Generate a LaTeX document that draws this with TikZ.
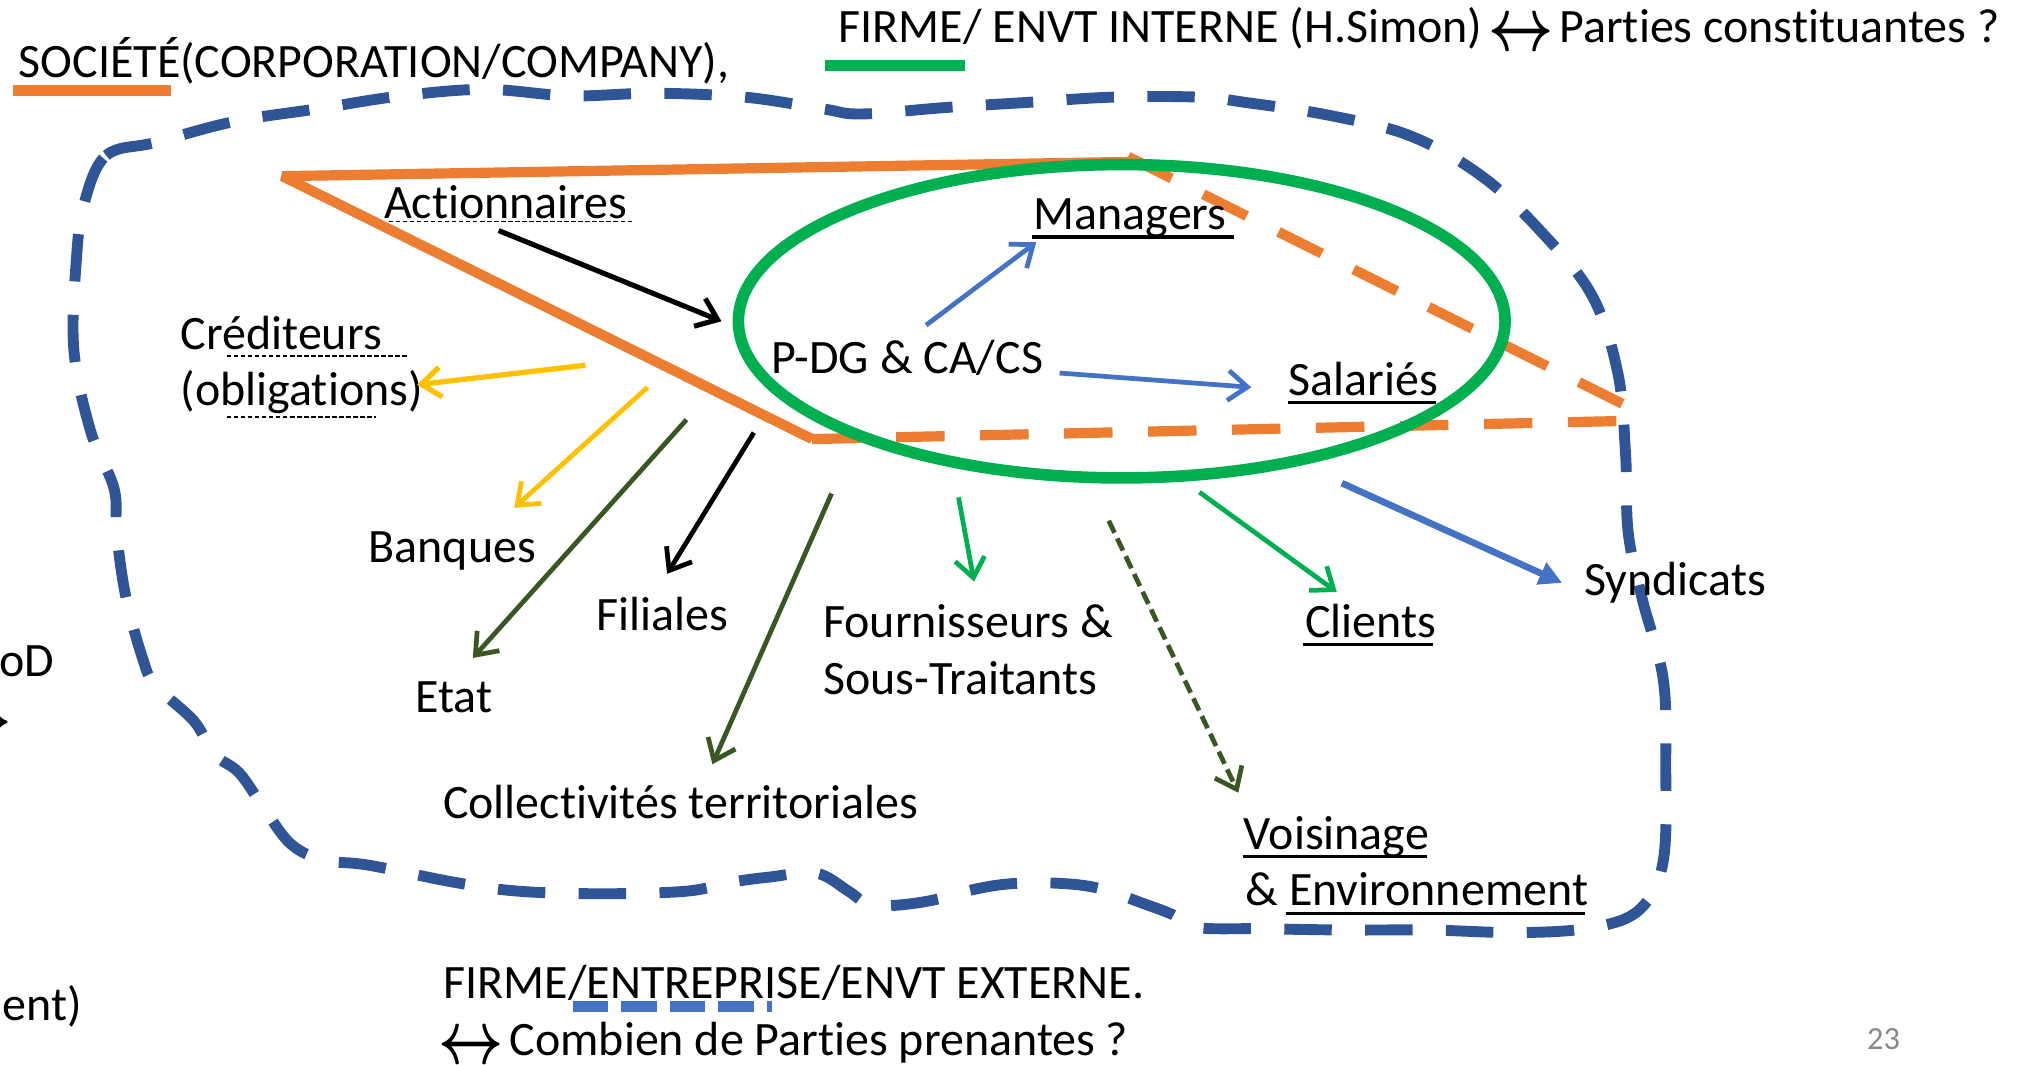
\documentclass[tikz,border=0pt]{standalone}
\usepackage{fontspec}
\setmainfont{Carlito}[Ligatures=NoCommon]
\usetikzlibrary{arrows.meta}
\definecolor{dblue}{HTML}{2F5597}
\definecolor{orng}{HTML}{ED7D31}
\definecolor{grn}{HTML}{00B050}
\definecolor{ylw}{HTML}{FFC000}
\definecolor{lblue}{HTML}{4472C4}
\definecolor{dgrn}{HTML}{385723}
\definecolor{pgray}{HTML}{898989}
\newcommand{\lra}{\makebox[1.15em][c]{\raisebox{-0.17em}{\scalebox{1.12}[1.5]{\boldmath$\leftrightarrow$}}}}
\begin{document}
\begin{tikzpicture}[x=0.012953cm,y=-0.012953cm,
  txt/.style={inner sep=0pt, anchor=base west, font=\fontsize{13.65}{16}\selectfont},
  uline/.style={line width=0.9pt},
  dline/.style={line width=0.55pt, dash pattern=on 1.3pt off 0.7pt},
  outer/.style={draw=dblue, line width=3.1pt, dash pattern=on 13.5pt off 9.5pt},
  soc/.style={draw=orng, line width=2.9pt},
  socd/.style={soc, dash pattern=on 13.8pt off 10.1pt},
  arr/.style={line width=1.35pt, -{Straight Barb[length=5.5pt,width=8.5pt]}},
]
\useasboundingbox (0,0) rectangle (1568,822);
\clip (0,0) rectangle (1568,822);

% outer blue dashed boundary
\draw[outer] plot[smooth cycle, tension=0.6] coordinates {
(65,157) (82,120) (120,110) (180,94) (245,84) (310,74) (375,69) (440,74) (505,72) (575,75) (635,84) (665,88) (730,83) (794,79) (859,75) (926,75) (961,79) (1026,89) (1089,105) (1144,136) (1189,178) (1229,228) (1249,288) (1255,351) (1257,411) (1268,463) (1284,524) (1286,590) (1284,665) (1266,702) (1230,716) (1174,720) (1104,718) (1039,718) (974,717) (924,716) (905,706) (884,698) (849,686) (819,682) (784,682) (755,686) (720,695) (690,699) (670,698) (655,688) (630,674) (595,677) (565,681) (530,688) (465,690) (400,688) (350,681) (285,668) (250,664) (225,652) (205,626) (185,597) (165,582) (150,557) (120,529) (110,508) (97,460) (90,411) (88,377) (70,333) (57,270) (59,200)};

% orange "société" shape
\coordinate (o1) at (218,136);
\coordinate (o2) at (871,125);
\coordinate (o2d) at (871,121);
\coordinate (o3a) at (1257,314);
\coordinate (o3b) at (1252,325);
\coordinate (o4) at (627,339);
\draw[soc, line join=bevel] (o2) -- (o1) -- (o4);
\draw[socd] (o2d) -- (o3a);
\draw[socd] (o4) -- (o3b);

% green ellipse
\draw[grn, line width=3.3pt] (866,248) ellipse [x radius=3.834cm, y radius=1.567cm];

% legend bars
\coordinate (sb1) at (10,70); \coordinate (sb2) at (132,70);
\draw[orng, line width=3.1pt] (sb1) -- (sb2);
\coordinate (gb1) at (637,50.5); \coordinate (gb2) at (745,50.5);
\draw[grn, line width=3.3pt] (gb1) -- (gb2);
\coordinate (bb1) at (442,777); \coordinate (bb2) at (596,777);
\draw[lblue, line width=3pt, dash pattern=on 10.1pt off 3.7pt] (bb1) -- (bb2);

% texts
\node[txt] (soct) at (14,60) {SOCIÉTÉ(CORPORATION/COMPANY),};
\node[txt] (fint) at (647,33) {FIRME/ ENVT INTERNE (H.Simon) \lra{} Parties constituantes ?};
\node[txt] (act) at (296,169) {Actionnaires};
\node[txt] (man) at (797.5,177) {Managers};
\node[txt] (cred) at (139,270) {Créditeurs};
\node[txt] (obl) at (139,313) {(obligations)};
\node[txt] (pdg) at (595,288) {P-DG \& CA/CS};
\node[txt] (sal) at (994.5,305) {Salariés};
\node[txt] (banq) at (284,434) {Banques};
\node[txt] (fil) at (460,487) {Filiales};
\node[txt] (etat) at (320,550) {Etat};
\node[txt] (four) at (635,492) {Fournisseurs \&};
\node[txt] (sous) at (635,536) {Sous-Traitants};
\node[txt] (coll) at (341.5,632) {Collectivités territoriales};
\node[txt] (cli) at (1007,492) {Clients};
\node[txt] (synd) at (1222.5,460) {Syndicats};
\node[txt] (vois) at (959.5,656) {Voisinage};
\node[txt] (envi) at (961,699) {\& Environnement};
\node[txt] (fext) at (342,771) {FIRME/ENTREPRISE/ENVT EXTERNE.};
\node[txt] (comb) at (342,815) {\lra{} Combien de Parties prenantes ?};
\node[inner sep=0pt, anchor=base west, font=\fontsize{9.2}{11}\selectfont, text=pgray] (pg) at (1441,810) {23};
% cut-off fragments at the left edge
\node[txt] (frg1) at (-1,522) {oD};
\node[txt, anchor=base east] (frg2) at (6,566) {\lra};
\node[txt, anchor=base east] (frg3) at (64,788) {ment)};

% underlines
\coordinate (u1a) at (300,171); \coordinate (u1b) at (489,171);
\draw[dline] (u1a) -- (u1b);
\coordinate (u2a) at (175,275); \coordinate (u2b) at (314,275);
\draw[dline] (u2a) -- (u2b);
\coordinate (u3a) at (175,322); \coordinate (u3b) at (290,322);
\draw[dline] (u3a) -- (u3b);
\coordinate (u4a) at (797,183); \coordinate (u4b) at (953,183);
\draw[uline] (u4a) -- (u4b);
\coordinate (u5a) at (994,311); \coordinate (u5b) at (1109,311);
\draw[uline] (u5a) -- (u5b);
\coordinate (u6a) at (1006,497.5); \coordinate (u6b) at (1106,497.5);
\draw[uline] (u6a) -- (u6b);
\coordinate (u7a) at (959.5,661); \coordinate (u7b) at (1102,661);
\draw[uline] (u7a) -- (u7b);
\coordinate (u8a) at (992.5,705); \coordinate (u8b) at (1223.5,705);
\draw[uline] (u8a) -- (u8b);

% arrows
\coordinate (a1s) at (385,178); \coordinate (a1e) at (557,248);
\draw[arr, black, line width=1.45pt] (a1s) -- (a1e);
\coordinate (a2s) at (715,251); \coordinate (a2e) at (800,187);
\draw[arr, lblue] (a2s) -- (a2e);
\coordinate (a3s) at (818,288); \coordinate (a3e) at (966,299);
\draw[arr, lblue] (a3s) -- (a3e);
\coordinate (a4s) at (452,282); \coordinate (a4e) at (322,297);
\draw[arr, ylw, line width=1.5pt] (a4s) -- (a4e);
\coordinate (a5s) at (500,299); \coordinate (a5e) at (397,392);
\draw[arr, ylw] (a5s) -- (a5e);
\coordinate (a6s) at (530,324); \coordinate (a6e) at (365,508);
\draw[arr, dgrn] (a6s) -- (a6e);
\coordinate (a7s) at (582,334); \coordinate (a7e) at (515,443);
\draw[arr, black] (a7s) -- (a7e);
\coordinate (a8s) at (642,381); \coordinate (a8e) at (550,590);
\draw[arr, dgrn] (a8s) -- (a8e);
\coordinate (a9s) at (740,384); \coordinate (a9e) at (752,449);
\draw[arr, grn] (a9s) -- (a9e);
\coordinate (a10s) at (856,402); \coordinate (a10e) at (956,612);
\draw[arr, dgrn, dash pattern=on 3.8pt off 1.8pt] (a10s) -- (a10e);
\coordinate (a11s) at (926,380); \coordinate (a11e) at (1032,457);
\draw[arr, grn] (a11s) -- (a11e);
\coordinate (a12s) at (1036,373); \coordinate (a12e) at (1206,450);
\draw[lblue, line width=1.9pt, -{Triangle[length=6.5pt,width=6.5pt]}] (a12s) -- (a12e);
\end{tikzpicture}
\end{document}
